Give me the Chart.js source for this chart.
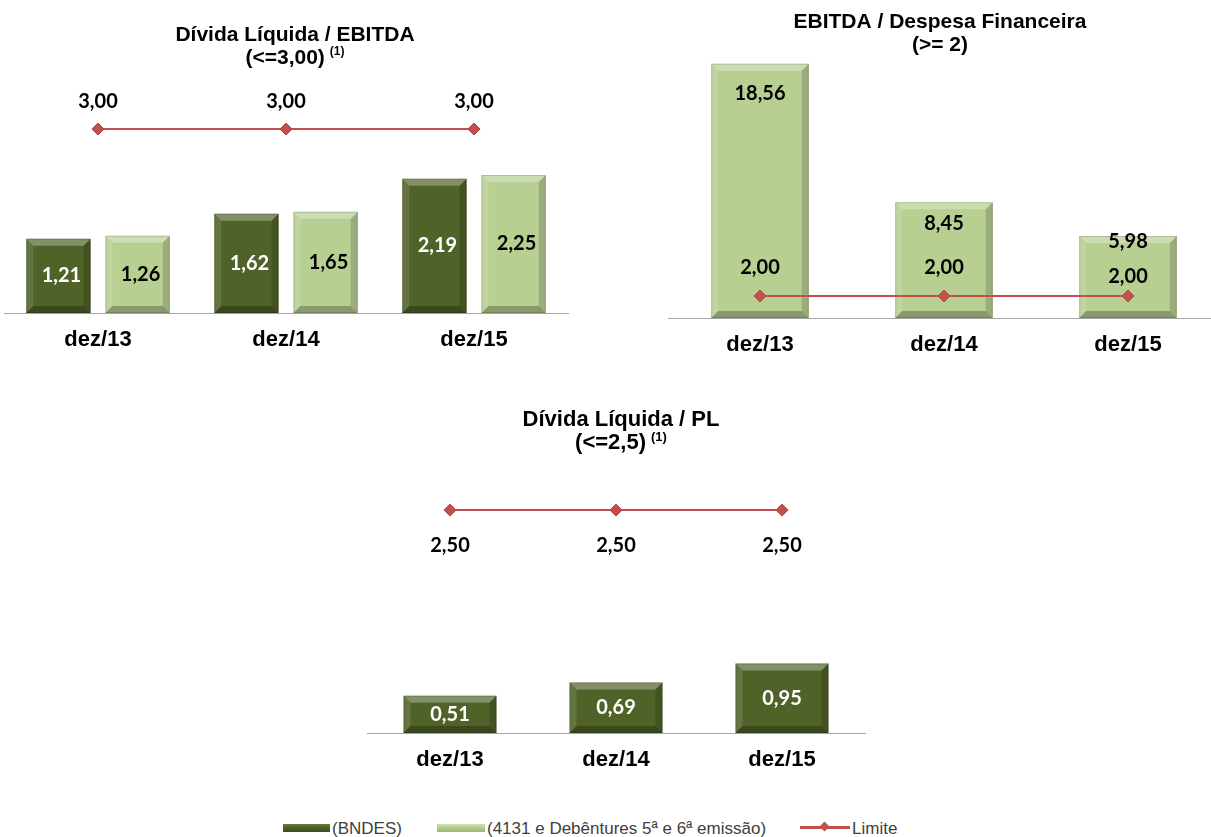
<!DOCTYPE html>
<html>
<head>
<meta charset="utf-8">
<script src="https://cdn.jsdelivr.net/npm/chart.js@4.4.1/dist/chart.umd.min.js"></script>
<style>
  body { margin: 0; width: 1211px; height: 837px; overflow: hidden; background: #fff; position: relative;
         font-family: 'Liberation Sans', Arial, sans-serif; }
  canvas { position: absolute; }
  .lg { position: absolute; font-size: 17px; line-height: 19px; color: #404040; white-space: nowrap; }
  .sw { position: absolute; height: 8px; }
</style>
</head>
<body>
<canvas id="c1" width="600" height="370" style="left:-3px;top:0"></canvas>
<canvas id="c2" width="580" height="375" style="left:650px;top:0"></canvas>
<canvas id="c3" width="560" height="400" style="left:340px;top:390px"></canvas>

<div class="sw" style="left:283px;top:824px;width:47px;background:linear-gradient(#6a7f3c,#4f6228 40%,#3c4b1e)"></div>
<div class="lg" style="left:332px;top:819px">(BNDES)</div>
<div class="sw" style="left:437px;top:824px;width:48px;background:linear-gradient(#d3e3b5,#b8cf92 40%,#9db576)"></div>
<div class="lg" style="left:487px;top:819px">(4131 e Debêntures 5ª e 6ª emissão)</div>
<div class="sw" style="left:800px;top:826px;width:50px;height:3px;background:#c0504d"></div>
<div class="sw" style="left:821px;top:823px;width:7px;height:7px;background:#c0504d;transform:rotate(45deg)"></div>
<div class="lg" style="left:852px;top:819px">Limite</div>

<script>
const categories = ['dez/13', 'dez/14', 'dez/15'];

// Dívida Líquida / EBITDA
const bndesDivEbitda = [1.21, 1.62, 2.19];
const debDivEbitda = [1.26, 1.65, 2.25];
const limitDivEbitda = [3.00, 3.00, 3.00];

// EBITDA / Despesa Financeira
const ebitdaDespFin = [18.56, 8.45, 5.98];
const limitEbitdaDespFin = [2.00, 2.00, 2.00];

// Dívida Líquida / PL
const bndesDivPl = [0.51, 0.69, 0.95];
const limitDivPl = [2.50, 2.50, 2.50];

const DARK = '#4f6228';
const LIGHT = '#b8cf92';
const RED = '#c0504d';
const LABEL_FONT = 'bold 20px Lato, "Open Sans", sans-serif';
const TITLE_FAMILY = '"Liberation Sans", Arial, sans-serif';

const fmt = v => v.toFixed(2).replace('.', ',');

function quad(ctx, pts, fill) {
  ctx.beginPath();
  ctx.moveTo(pts[0][0], pts[0][1]);
  for (let i = 1; i < pts.length; i++) ctx.lineTo(pts[i][0], pts[i][1]);
  ctx.closePath();
  ctx.fillStyle = fill;
  ctx.fill();
}

// soft bevel on each bar, like the Office shape effect
const bevel = {
  id: 'bevel',
  afterDatasetDraw(chart, args) {
    const meta = args.meta;
    if (meta.type !== 'bar') return;
    const ctx = chart.ctx;
    meta.data.forEach(el => {
      const { x, y, base, width } = el.getProps(['x', 'y', 'base', 'width'], true);
      const l = x - width / 2, r = x + width / 2;
      const t = Math.min(y, base), b = Math.max(y, base);
      const d = Math.min(7, (b - t) / 3, width / 3);
      ctx.save();
      quad(ctx, [[l, t], [r, t], [r - d, t + d], [l + d, t + d]], 'rgba(255,255,255,0.30)');
      quad(ctx, [[l, t], [l + d, t + d], [l + d, b - d], [l, b]], 'rgba(255,255,255,0.12)');
      quad(ctx, [[r, t], [r, b], [r - d, b - d], [r - d, t + d]], 'rgba(0,0,0,0.16)');
      quad(ctx, [[l, b], [l + d, b - d], [r - d, b - d], [r, b]], 'rgba(0,0,0,0.26)');
      ctx.strokeStyle = 'rgba(0,0,0,0.15)';
      ctx.lineWidth = 1;
      ctx.strokeRect(l + 0.5, t + 0.5, width - 1, b - t - 1);
      ctx.restore();
    });
  }
};

const valueLabels = {
  id: 'valueLabels',
  afterDatasetsDraw(chart) {
    const ctx = chart.ctx;
    chart.data.datasets.forEach((ds, i) => {
      const lab = ds.valueLabel;
      if (!lab) return;
      chart.getDatasetMeta(i).data.forEach((el, j) => {
        const py = lab.mode === 'center' ? (el.y + el.base) / 2 : el.y + lab.offsets[j];
        ctx.save();
        ctx.font = LABEL_FONT;
        ctx.fillStyle = lab.color;
        ctx.textAlign = 'center';
        ctx.textBaseline = 'middle';
        ctx.fillText(fmt(ds.data[j]), el.x + (lab.dx || 0), py);
        ctx.restore();
      });
    });
  }
};

const blockTitle = {
  id: 'blockTitle',
  afterDraw(chart, args, opts) {
    const ctx = chart.ctx;
    const main = `bold ${opts.size}px ${TITLE_FAMILY}`;
    const small = `bold ${Math.round(opts.size * 0.58)}px ${TITLE_FAMILY}`;
    ctx.save();
    ctx.fillStyle = '#000';
    ctx.textBaseline = 'middle';
    ctx.textAlign = 'center';
    ctx.font = main;
    ctx.fillText(opts.line1, opts.x, opts.y1);
    const w2 = ctx.measureText(opts.line2).width;
    ctx.font = small;
    const ws = opts.sup ? ctx.measureText(opts.sup).width + 5 : 0;
    const start = opts.x - (w2 + ws) / 2;
    ctx.textAlign = 'left';
    ctx.font = main;
    ctx.fillText(opts.line2, start, opts.y2);
    if (opts.sup) {
      ctx.font = small;
      ctx.fillText(opts.sup, start + w2 + 5, opts.y2 - 6);
    }
    ctx.restore();
  }
};

function barSet(label, data, color, textColor, extra) {
  return Object.assign({
    type: 'bar', label, data, backgroundColor: color, borderWidth: 0, order: 2,
    valueLabel: { mode: 'center', color: textColor }
  }, extra || {});
}

function limitSet(data, offsets) {
  return {
    type: 'line', label: 'Limite', data, yAxisID: 'y2', order: 0,
    borderColor: RED, borderWidth: 2, pointStyle: 'rectRot', pointRadius: 6,
    pointBackgroundColor: RED, pointBorderColor: '#b83c3a', pointBorderWidth: 1,
    valueLabel: { mode: 'offset', color: '#000', offsets }
  };
}

function makeChart(id, datasets, cfg) {
  return new Chart(document.getElementById(id), {
    data: { labels: categories, datasets },
    options: {
      responsive: false,
      animation: false,
      devicePixelRatio: 1,
      layout: { padding: cfg.padding },
      datasets: { bar: { barPercentage: cfg.barPct, categoryPercentage: cfg.catPct } },
      plugins: {
        legend: { display: false },
        tooltip: { enabled: false },
        blockTitle: cfg.title
      },
      scales: {
        x: {
          grid: { display: false, drawTicks: false },
          border: { display: true, color: '#a6a6a6', width: 1 },
          ticks: { color: '#000', padding: 14, font: { family: TITLE_FAMILY, size: 22, weight: 'bold' } },
          afterFit: s => { s.height = 57; }
        },
        y: { display: false, min: 0, max: cfg.yMax },
        y2: { display: false, min: 0, max: cfg.y2Max }
      }
    },
    plugins: [bevel, valueLabels, blockTitle]
  });
}

makeChart('c1', [
  barSet('(BNDES)', bndesDivEbitda, DARK, '#fff', { valueLabel: { mode: 'center', color: '#fff', dx: 3 } }),
  barSet('(4131 e Debêntures 5ª e 6ª emissão)', debDivEbitda, LIGHT, '#000', { valueLabel: { mode: 'center', color: '#000', dx: 3 } }),
  limitSet(limitDivEbitda, [-28, -28, -28])
], {
  padding: { left: 2, right: 29, top: 80, bottom: 0 },
  barPct: 0.8125, catPct: 0.842, yMax: 3.8, y2Max: 3.8,
  title: { x: 298, y1: 35, y2: 58, size: 21, line1: 'Dívida Líquida / EBITDA', line2: '(<=3,00)', sup: '(1)' }
});

makeChart('c2', [
  barSet('(4131 e Debêntures 5ª e 6ª emissão)', ebitdaDespFin, LIGHT, '#000',
    { valueLabel: { mode: 'offset', color: '#000', offsets: [30, 21, 5] } }),
  limitSet(limitEbitdaDespFin, [-28, -28, -19])
], {
  padding: { left: 18, right: 10, top: 60, bottom: 0 },
  barPct: 1, catPct: 0.53, yMax: 18.83, y2Max: 23.45,
  title: { x: 290, y1: 22, y2: 45, size: 21, line1: 'EBITDA / Despesa Financeira', line2: '(>= 2)' }
});

makeChart('c3', [
  barSet('(BNDES)', bndesDivPl, DARK, '#fff'),
  limitSet(limitDivPl, [35, 35, 35])
], {
  padding: { left: 27, right: 35, top: 80, bottom: 0 },
  barPct: 1, catPct: 0.56, yMax: 3.6, y2Max: 2.95,
  title: { x: 281, y1: 30, y2: 53, size: 22, line1: 'Dívida Líquida / PL', line2: '(<=2,5)', sup: '(1)' }
});
</script>
</body>
</html>
